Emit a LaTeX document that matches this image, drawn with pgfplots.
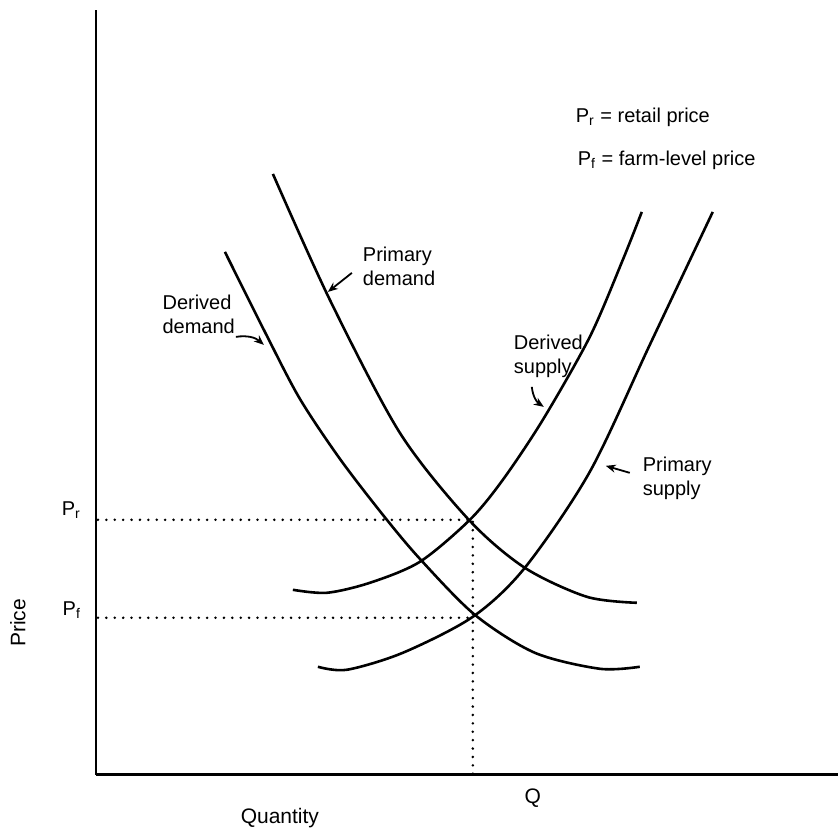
\documentclass[border=0pt]{standalone}
\usepackage{fontspec}
\setmainfont{Liberation Sans}
\usepackage{pgfplots}
\pgfplotsset{compat=1.18}
\usetikzlibrary{arrows.meta}
\begin{document}
\begin{tikzpicture}
\begin{axis}[
  scale only axis,
  width=371pt, height=382.5pt,
  xmin=96, xmax=838, ymin=57, ymax=822,
  axis lines=left,
  axis line style={-, line width=1.3pt},
  ticks=none,
  clip=false,
  curve/.style={black, line width=1.3pt, smooth, tension=0.5, no markers},
  dotline/.style={black, line width=1.4pt, line cap=round, dash pattern=on 0pt off 4.2pt, no markers},
  every node/.append style={font=\fontsize{9}{10.5}\selectfont, inner sep=0pt},
]
% page frame
\path (axis cs:0,0) rectangle (axis cs:839,832);

% Primary demand
\addplot[curve] coordinates {
  (273,658) (330,532) (400,399) (469,312) (525,264) (587,235) (637,229)
};
% Derived demand
\addplot[curve] coordinates {
  (225,580) (267,496) (300,433) (340,373) (383,317) (420,273)
  (475,217) (535,179) (600,163) (640,165)
};
% Derived supply
\addplot[curve] coordinates {
  (293,242) (327,239) (370,249) (420,270) (470,312) (503,352) (543,412)
  (590,495) (623,572) (642,620)
};
% Primary supply
\addplot[curve] coordinates {
  (318,165) (347,162) (403,179) (473,215) (525,264) (590,360) (650,487)
  (713,620)
};

% dotted guides
\addplot[dotline] coordinates {(98,312) (470,312)};
\addplot[dotline] coordinates {(98,214) (474,214)};
\addplot[dotline] coordinates {(473,310) (473,58)};

% labels
\node[anchor=east] at (axis cs:88,322) {\fontsize{10}{12}\selectfont P\textsubscript{r}};
\node[anchor=east] at (axis cs:88,222) {\fontsize{10}{12}\selectfont P\textsubscript{f}};
\node[rotate=90] at (axis cs:18,209) {\fontsize{10.5}{12}\selectfont Price};
\node at (axis cs:280,14) {\fontsize{10.5}{12}\selectfont Quantity};
\node at (axis cs:533,34) {\fontsize{10.5}{12}\selectfont Q};

\node[anchor=north west, align=left] at (axis cs:356,592) {Primary\\demand};
\node[anchor=north east, align=left] at (axis cs:242,544) {Derived\\demand};
\node[anchor=north west, align=left] at (axis cs:507,504) {Derived\\supply};
\node[anchor=north west, align=left] at (axis cs:636,382) {Primary\\supply};

\node[anchor=west] at (axis cs:569,715) {\fontsize{10}{12}\selectfont P\textsubscript{r} = retail price};
\node[anchor=west] at (axis cs:571,672) {\fontsize{10}{12}\selectfont P\textsubscript{f} = farm-level price};

% pointer arrows
\draw[line width=0.9pt, -{Stealth[length=5pt,width=4pt]}] (axis cs:352,559) -- (axis cs:328,540);
\draw[line width=0.9pt, -{Stealth[length=5pt,width=4pt]}] (axis cs:236,495) to[bend left=25] (axis cs:264,487);
\draw[line width=0.9pt, -{Stealth[length=5pt,width=4pt]}] (axis cs:532,445) to[bend right=25] (axis cs:544,425);
\draw[line width=0.9pt, -{Stealth[length=5pt,width=4pt]}] (axis cs:630,359) -- (axis cs:606,366);
\end{axis}
\end{tikzpicture}
\end{document}
